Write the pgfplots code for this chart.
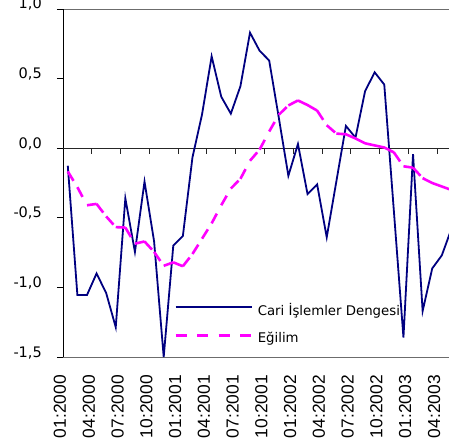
\documentclass[border=0pt]{standalone}
\usepackage{pgfplots}
\pgfplotsset{compat=1.18}
\usepackage{pgfplotstable}
\usepackage{fontspec}
\setmainfont{DejaVu Sans}
\newfontfamily\lib{Liberation Sans}
\definecolor{navy}{RGB}{0,0,128}
\definecolor{mag}{RGB}{255,0,255}
\pgfplotsset{
  blueleg/.style={legend image code/.code={\draw[##1] (0pt,3pt) -- (76pt,3pt);}},
  magleg/.style={legend image code/.code={\draw[##1, line width=2.6pt, dash pattern=on 11pt off 10.5pt] (0pt,2.5pt) -- (76pt,2.5pt);}},
}

\pgfplotstableread{
x y
0 -0.126
1 -1.055
2 -1.055
3 -0.90
4 -1.04
5 -1.286
6 -0.36
7 -0.745
8 -0.24
9 -0.67
10 -1.50
11 -0.70
12 -0.63
13 -0.066
14 0.243
15 0.66
16 0.37
17 0.248
18 0.445
19 0.83
20 0.70
21 0.63
22 0.22
23 -0.198
24 0.03
25 -0.33
26 -0.26
27 -0.64
28 -0.24
29 0.16
30 0.076
31 0.41
32 0.545
33 0.457
34 -0.45
35 -1.36
36 -0.043
37 -1.17
38 -0.864
39 -0.77
40 -0.58
}\cari

\pgfplotstableread{
x y
0 -0.167
1 -0.28
nan nan
1 -0.28
2 -0.41
nan nan
2 -0.41
3 -0.40
nan nan
3 -0.40
4 -0.49
nan nan
4 -0.49
5 -0.567
nan nan
5 -0.567
6 -0.57
nan nan
6 -0.57
7 -0.686
nan nan
7 -0.686
8 -0.67
nan nan
8 -0.67
9 -0.745
nan nan
9 -0.745
10 -0.845
nan nan
10 -0.845
11 -0.82
nan nan
11 -0.82
12 -0.848
nan nan
12 -0.848
13 -0.76
nan nan
13 -0.76
14 -0.65
nan nan
14 -0.65
15 -0.54
nan nan
15 -0.54
16 -0.41
nan nan
16 -0.41
17 -0.29
nan nan
17 -0.29
18 -0.22
nan nan
18 -0.22
19 -0.09
nan nan
19 -0.09
20 -0.01
nan nan
20 -0.01
21 0.12
nan nan
21 0.12
22 0.24
nan nan
22 0.24
23 0.307
nan nan
23 0.307
24 0.343
nan nan
24 0.343
25 0.31
nan nan
25 0.31
26 0.27
nan nan
26 0.27
27 0.165
nan nan
27 0.165
28 0.105
nan nan
28 0.105
29 0.10
nan nan
29 0.10
30 0.07
nan nan
30 0.07
31 0.035
nan nan
31 0.035
32 0.02
nan nan
32 0.02
33 0.005
nan nan
33 0.005
34 -0.03
nan nan
34 -0.03
35 -0.13
nan nan
35 -0.13
36 -0.14
nan nan
36 -0.14
37 -0.215
nan nan
37 -0.215
38 -0.25
nan nan
38 -0.25
39 -0.275
nan nan
39 -0.275
40 -0.30
}\egilim

\begin{document}
\begin{tikzpicture}
\begin{axis}[
  at={(0pt,0pt)}, anchor=south west,
  scale only axis, width=393.19pt, height=348pt,
  xmin=-0.5, xmax=40.5, ymin=-1.5, ymax=1,
  clip=false,
  separate axis lines,
  x axis line style={draw=gray!85!black, line width=0.9pt},
  y axis line style={draw=black, line width=0.9pt},
  xtick={-0.5,2.5,...,38.5},
  xticklabels={01:2000,04:2000,07:2000,10:2000,01:2001,04:2001,07:2001,10:2001,01:2002,04:2002,07:2002,10:2002,01:2003,04:2003},
  xtick pos=bottom, xtick align=inside,
  xtick style={draw=none},
  x tick label style={xshift=-3pt, rotate=90, anchor=east, inner sep=0pt, font=\lib\fontsize{17.4}{19}\selectfont},
  xticklabel shift=18pt,
  ytick={-1.5,-1,-0.5,0,0.5,1},
  yticklabels={{-1,5},{-1,0},{-0,5},{0,0},{0,5},{1,0}},
  ytick pos=left, ytick align=outside, major tick length=6pt,
  ytick style={black, line width=0.8pt},
  y tick label style={anchor=base east, inner sep=0pt, font=\fontsize{14.5}{16}\selectfont},
  yticklabel shift=15pt,
  unbounded coords=jump,
  legend cell align=left,
  legend style={at={(axis description cs:0.2823,0.0368)}, anchor=south west,
    draw=none, fill=none, inner sep=0pt, row sep=15.5pt, column sep=5pt,
    font=\fontsize{13.3}{15}\selectfont, nodes={inner sep=0pt}},
]
\draw[black!85, line width=0.9pt] (axis cs:-0.5,0) -- (axis cs:40.5,0);
\pgfplotsinvokeforeach{2.5,5.5,8.5,11.5,14.5,17.5,20.5,23.5,26.5,29.5,32.5,35.5,38.5}{
  \draw[black!85, line width=0.8pt] (axis cs:#1,0) -- ++(0pt,-6pt);
}
\addplot[navy, line width=1.8pt, mark=none, blueleg] table[x=x,y=y] {\cari};
\addlegendentry{Cari İşlemler Dengesi}
\addplot[mag, line width=2.6pt, mark=none, dash pattern=on 11pt off 10pt, magleg] table[x=x,y=y] {\egilim};
\addlegendentry{Eğilim}
\end{axis}
\pgfresetboundingbox
\useasboundingbox (-63pt,-84pt) rectangle (386pt,357pt);
\end{tikzpicture}
\end{document}
